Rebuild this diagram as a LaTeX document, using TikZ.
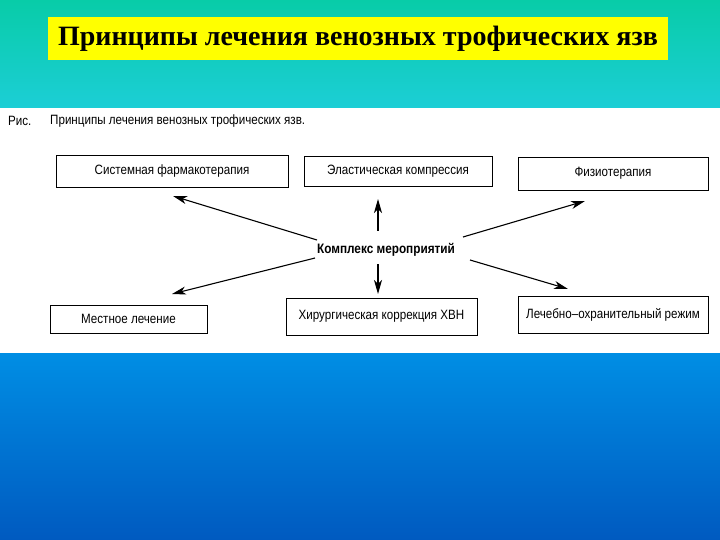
\documentclass[tikz,border=0pt]{standalone}
\usepackage{fontspec}
\setmainfont{Liberation Serif}
\newfontfamily\narrowsans[FakeStretch=0.86]{Liberation Sans}
\usetikzlibrary{arrows.meta}

\definecolor{tealtop}{RGB}{8,204,168}
\definecolor{tealbot}{RGB}{28,206,214}
\definecolor{bluetop}{RGB}{0,142,228}
\definecolor{bluebot}{RGB}{0,90,192}
\definecolor{titleyellow}{RGB}{255,255,0}

\begin{document}
\begin{tikzpicture}[
  x=1pt, y=-1pt,
  box/.style={rectangle, draw, line width=0.9pt, inner sep=0pt, align=center,
              font=\narrowsans\fontsize{13.5}{15}\selectfont},
  caption/.style={anchor=west, inner sep=0pt, font=\narrowsans\fontsize{13.5}{15}\selectfont},
  arr/.style={-{Stealth[length=14pt, width=8pt, inset=4pt]}, line width=1.1pt},
]
  \useasboundingbox (0,0) rectangle (720,540);

  % Background bands
  \shade[top color=tealtop, bottom color=tealbot] (0,0) rectangle (720,108);
  \fill[white] (0,108) rectangle (720,353);
  \shade[top color=bluetop, bottom color=bluebot] (0,353) rectangle (720,540);

  % Title
  \node[fill=titleyellow, minimum width=620pt, minimum height=43pt, inner sep=0pt,
        font=\bfseries\fontsize{28}{32}\selectfont] (title) at (358,38.5)
        {Принципы лечения венозных трофических язв};

  % Caption
  \node[caption] (ris) at (8,121) {Рис.};
  \node[caption] (cap) at (50,121) {Принципы лечения венозных трофических язв.};

  % Centre
  \node[inner sep=0pt, font=\narrowsans\bfseries\fontsize{13.7}{15}\selectfont] (kompl) at (386,250)
        {Комплекс мероприятий};

  % Upper row
  \node[box, minimum width=232pt, minimum height=32pt] (sys) at (172,171) {Системная фармакотерапия};
  \node[box, minimum width=188pt, minimum height=30pt] (elast) at (398,171) {Эластическая компрессия};
  \node[box, minimum width=190pt, minimum height=33pt] (fizio) at (613,173.5) {Физиотерапия};

  % Lower row
  \node[box, minimum width=157pt, minimum height=28pt] (mest) at (128.5,319) {Местное лечение};
  \node[box, minimum width=191pt, minimum height=37pt] (hir) at (381.5,316.5) {Хирургическая коррекция ХВН};
  \node[box, minimum width=190pt, minimum height=37pt] (lech) at (613,314.5) {Лечебно–охранительный режим};

  % Arrow ends
  \coordinate (upTail) at (378,231);
  \coordinate (elastTip) at (378,199);
  \coordinate (downTail) at (378,264);
  \coordinate (hirTip) at (378,294);
  \coordinate (sysTip) at (173,196);
  \coordinate (fizioTip) at (585,201);
  \coordinate (mestTip) at (172,294);
  \coordinate (lechTip) at (568,289);

  % Arrows
  \draw[arr] (317,240) -- (sysTip);
  \draw[arr] (upTail) -- (elastTip);
  \draw[arr] (463,237) -- (fizioTip);
  \draw[arr] (315,258) -- (mestTip);
  \draw[arr] (downTail) -- (hirTip);
  \draw[arr] (470,260) -- (lechTip);
\end{tikzpicture}
\end{document}
